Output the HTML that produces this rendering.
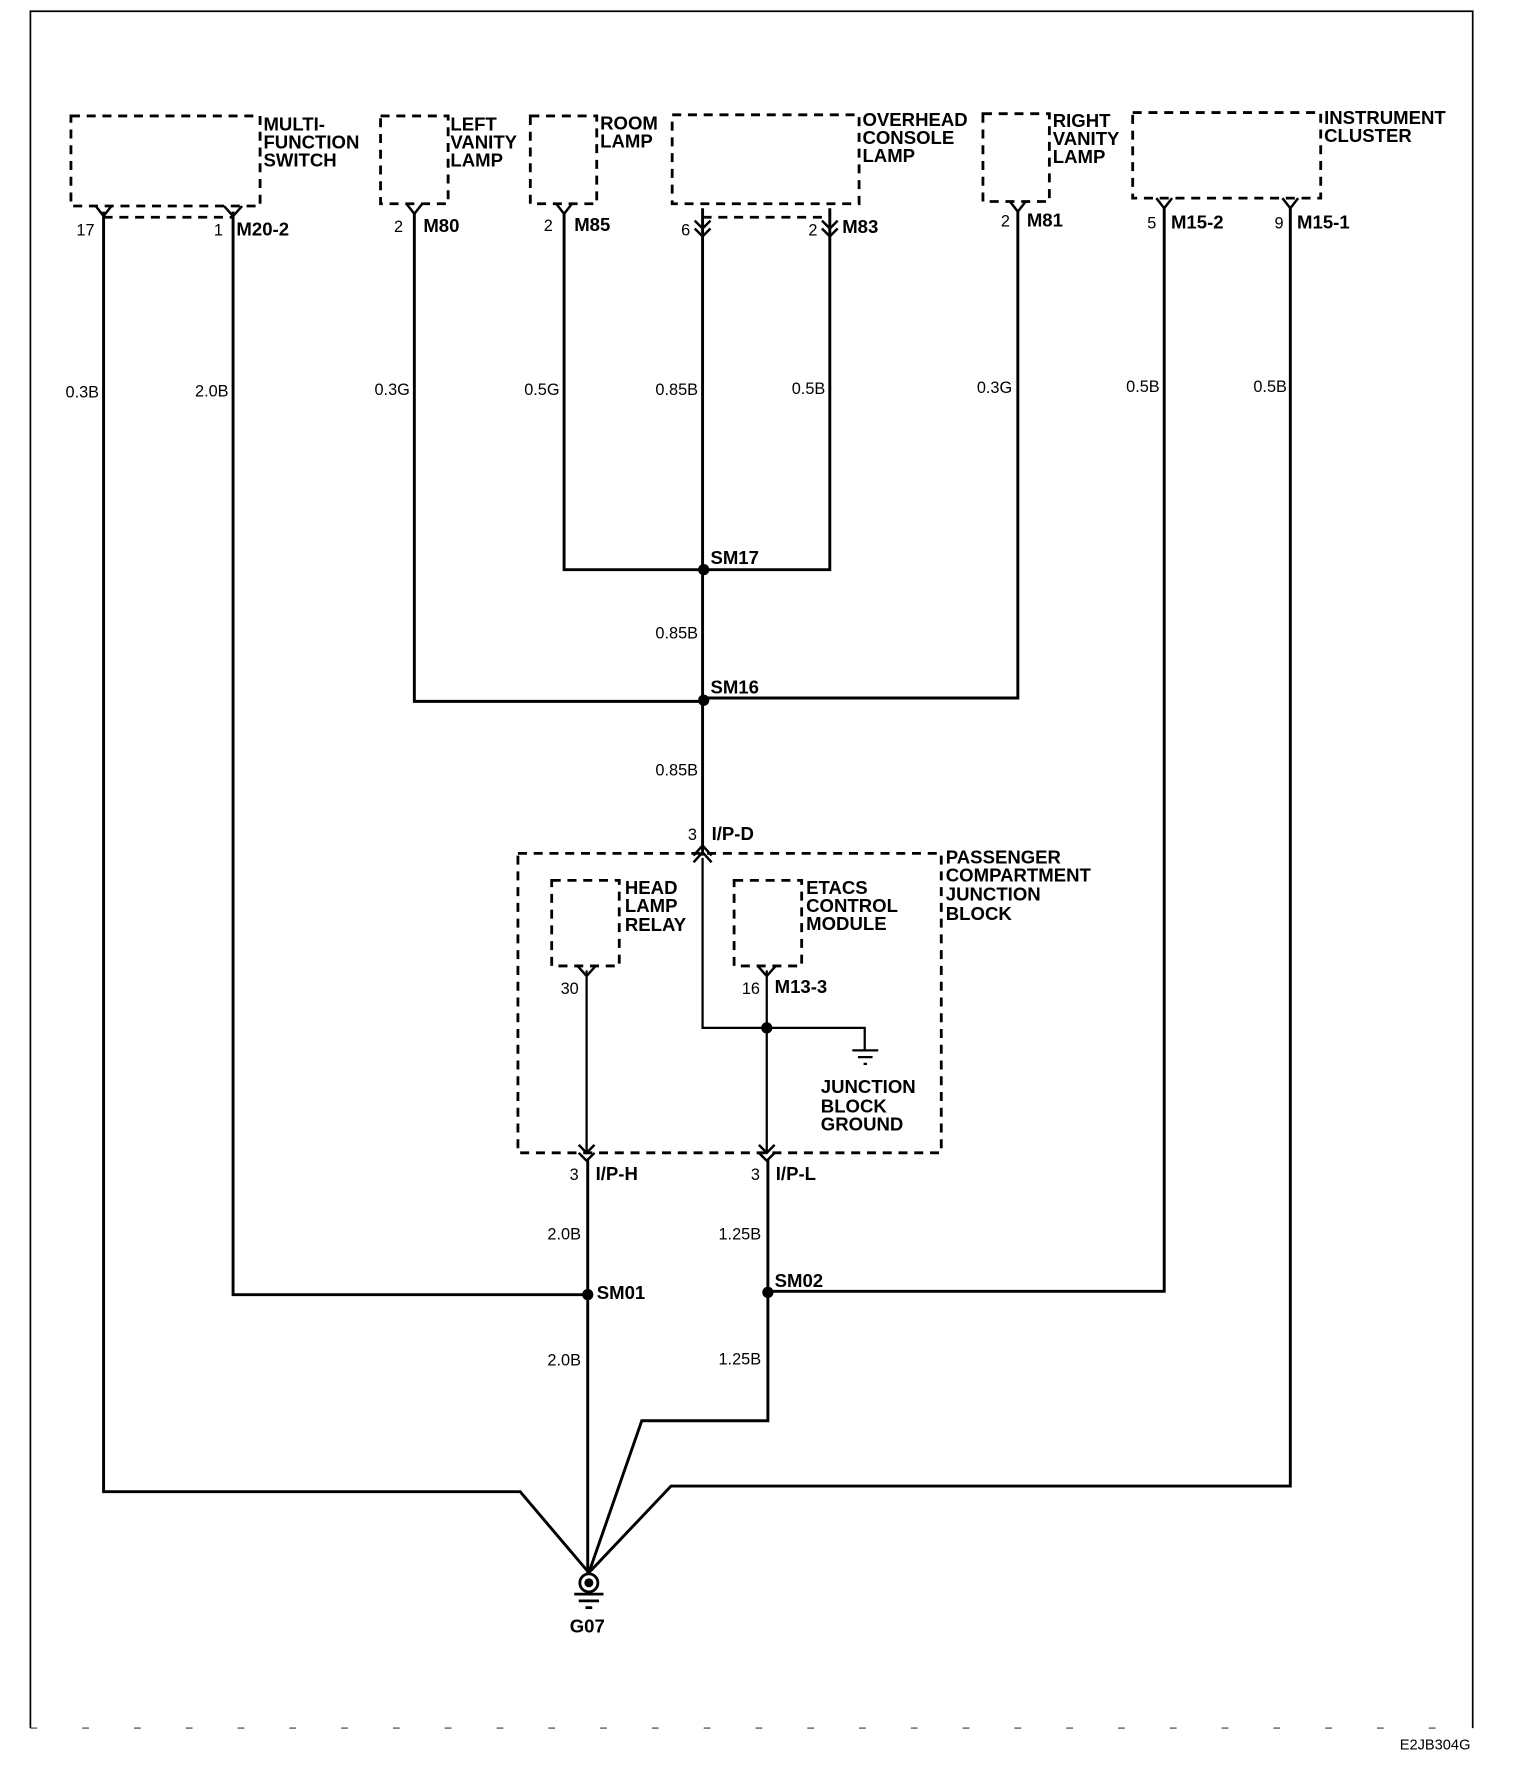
<!DOCTYPE html>
<html><head><meta charset="utf-8"><style>
html,body{margin:0;padding:0;background:#fff;}
svg{display:block;}
text{font-family:"Liberation Sans",Arial,sans-serif;fill:#000;}
.b{font-weight:bold;font-size:16.5px;}
.n{font-size:14.5px;}
</style></head><body>
<svg width="1520" height="1772" viewBox="0 0 1350 1574" preserveAspectRatio="none" xmlns="http://www.w3.org/2000/svg">
<g fill="none" stroke="#000">
<path d="M27 1535 V10 H1308 V1535" stroke-width="1.5"/>
<path d="M27 1535 H1308" stroke-width="0.8" stroke-dasharray="6 40"/>
<g stroke-width="2.5" stroke-dasharray="8 6">
<rect x="63" y="103" width="168" height="80"/>
<rect x="338" y="103" width="60" height="78"/>
<rect x="471" y="103" width="59" height="78"/>
<rect x="597" y="102" width="166" height="79"/>
<rect x="873" y="101" width="59" height="78"/>
<rect x="1006" y="100" width="167" height="76"/>
<rect x="460" y="758" width="376" height="266"/>
<rect x="490" y="782" width="60" height="76"/>
<rect x="652" y="782" width="60" height="76"/>
<path d="M92 193 H207"/>
<path d="M624 193 H737"/>
</g>
<g stroke-width="2.6" stroke-linejoin="miter">
<path d="M92 188 V1325 H462 L523 1397"/>
<path d="M207 188 V1150 H522"/>
<path d="M368 188 V623 H625"/>
<path d="M501 188 V506 H737 V185"/>
<path d="M624 185 V760"/>
<path d="M904 186 V620 H625"/>
<path d="M1034 183 V1147 H682"/>
<path d="M1146 183 V1320 H596 L523 1397"/>
<path d="M522 1030 V1397"/>
<path d="M682 1030 V1262 H570 L523 1397"/>
</g>
<g stroke-width="2">
<path d="M624 762 V913 H768 V933"/>
<path d="M681 862 V1024"/>
<path d="M521 862 V1024"/>
<path d="M757 933 H780 M762 939 H775 M767 945 H770"/>
</g>
<g stroke-width="2.2">
<path d="M85 183 L92 192 L99 183"/>
<path d="M199 183 L207 192 L215 183"/>
<path d="M361 181 L368 190 L375 181"/>
<path d="M494 181 L501 190 L508 181"/>
<path d="M897 179 L904 188 L911 179"/>
<path d="M1027 176 L1034 185 L1041 176"/>
<path d="M1139 176 L1146 185 L1153 176"/>
<path d="M617 196 L624 203 L631 196 M617 203 L624 210 L631 203"/>
<path d="M730 196 L737 203 L744 196 M730 203 L737 210 L744 203"/>
<path d="M616 766 L624 757 L632 766 M616 760 L624 751 L632 760"/>
<path d="M513 858 L521 867 L529 858"/>
<path d="M673 858 L681 867 L689 858"/>
<path d="M514 1017 L521 1024 L528 1017 M514 1024 L521 1031 L528 1024"/>
<path d="M674 1017 L681 1024 L688 1017 M674 1024 L681 1031 L688 1024"/>
</g>
<circle cx="523" cy="1406" r="8" stroke-width="2.5"/>
<path d="M510 1416 H536 M514 1422 H532" stroke-width="2.5"/>
<path d="M520 1428 H526" stroke-width="2.5"/>
</g>
<g fill="#000">
<circle cx="523" cy="1406" r="4"/>
<circle cx="625" cy="506" r="5"/>
<circle cx="625" cy="622" r="5"/>
<circle cx="681" cy="913" r="5"/>
<circle cx="522" cy="1150" r="5"/>
<circle cx="682" cy="1148" r="5"/>
</g>
<g class="b">
<text x="234" y="116">MULTI-</text><text x="234" y="132">FUNCTION</text><text x="234" y="148">SWITCH</text>
<text x="400" y="116">LEFT</text><text x="400" y="132">VANITY</text><text x="400" y="148">LAMP</text>
<text x="533" y="115">ROOM</text><text x="533" y="131">LAMP</text>
<text x="766" y="112">OVERHEAD</text><text x="766" y="128">CONSOLE</text><text x="766" y="144">LAMP</text>
<text x="935" y="113">RIGHT</text><text x="935" y="129">VANITY</text><text x="935" y="145">LAMP</text>
<text x="1176" y="110">INSTRUMENT</text><text x="1176" y="126">CLUSTER</text>
<text x="840" y="767">PASSENGER</text><text x="840" y="783">COMPARTMENT</text><text x="840" y="800">JUNCTION</text><text x="840" y="817">BLOCK</text>
<text x="555" y="794">HEAD</text><text x="555" y="810">LAMP</text><text x="555" y="827">RELAY</text>
<text x="716" y="794">ETACS</text><text x="716" y="810">CONTROL</text><text x="716" y="826">MODULE</text>
<text x="729" y="971">JUNCTION</text><text x="729" y="988">BLOCK</text><text x="729" y="1004">GROUND</text>
<text x="506" y="1450">G07</text>
</g>
<g class="b" font-size="14.5">
<text x="210" y="209">M20-2</text>
<text x="376" y="206">M80</text>
<text x="510" y="205">M85</text>
<text x="748" y="207">M83</text>
<text x="912" y="201">M81</text>
<text x="1040" y="203">M15-2</text>
<text x="1152" y="203">M15-1</text>
<text x="632" y="746">I/P-D</text>
<text x="688" y="882">M13-3</text>
<text x="529" y="1048">I/P-H</text>
<text x="689" y="1048">I/P-L</text>
<text x="631" y="501">SM17</text>
<text x="631" y="616">SM16</text>
<text x="530" y="1154">SM01</text>
<text x="688" y="1143">SM02</text>
</g>
<g class="n" text-anchor="end">
<text x="84" y="209">17</text><text x="198" y="209">1</text><text x="358" y="206">2</text><text x="491" y="205">2</text>
<text x="613" y="209">6</text><text x="726" y="209">2</text><text x="897" y="201">2</text><text x="1027" y="203">5</text><text x="1140" y="203">9</text>
<text x="619" y="746">3</text><text x="514" y="883">30</text><text x="675" y="883">16</text>
<text x="514" y="1048">3</text><text x="675" y="1048">3</text>
<text x="88" y="353">0.3B</text><text x="203" y="352">2.0B</text><text x="364" y="351">0.3G</text><text x="497" y="351">0.5G</text>
<text x="620" y="351">0.85B</text><text x="733" y="350">0.5B</text><text x="899" y="349">0.3G</text><text x="1030" y="348">0.5B</text><text x="1143" y="348">0.5B</text>
<text x="620" y="567">0.85B</text><text x="620" y="689">0.85B</text>
<text x="516" y="1101">2.0B</text><text x="676" y="1101">1.25B</text>
<text x="516" y="1213">2.0B</text><text x="676" y="1212">1.25B</text>
<text x="1306" y="1554" font-size="13">E2JB304G</text>
</g>
</svg>
</body></html>
